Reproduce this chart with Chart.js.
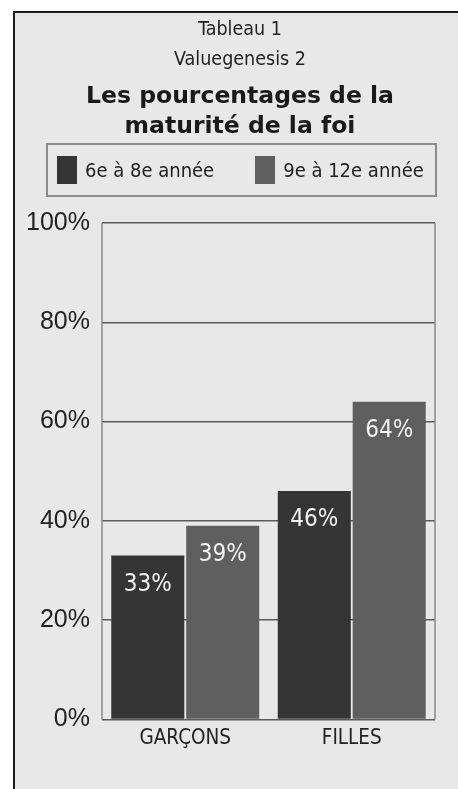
<!DOCTYPE html>
<html>
<head>
<meta charset="utf-8">
<script src="https://cdn.jsdelivr.net/npm/chart.js@4.4.1/dist/chart.umd.min.js"></script>
<style>
  body { margin: 0; background: #fff; }
  #wrap { position: relative; width: 458px; height: 789px; overflow: hidden; }
  #panel {
    position: absolute; left: 13px; top: 11px; width: 460px; height: 790px;
    background: #e8e8e8; border-left: 2px solid #1c1c1c; border-top: 2px solid #1c1c1c;
  }
  #chart { position: absolute; left: 0; top: 0; }
  #legend {
    position: absolute; left: 46px; top: 143px; width: 391px; height: 54px;
    box-sizing: border-box; border: 2px solid #8c8c8c;
    display: flex; align-items: center; padding-left: 9px; gap: 41px;
    font-family: 'DejaVu Sans Condensed', 'DejaVu Sans', sans-serif;
    font-size: 20px; color: #222; white-space: nowrap;
  }
  #legend .item { display: flex; align-items: center; }
  #legend .sw { width: 20px; height: 28px; margin-right: 8px; }
</style>
</head>
<body>
<div id="wrap">
  <div id="panel"></div>
  <canvas id="chart" width="480" height="789"></canvas>
  <div id="legend"></div>
</div>
<script>
var categories = ['GARÇONS', 'FILLES'];
var seriesNames = ['6e à 8e année', '9e à 12e année'];
var grade6to8 = [33, 46];
var grade9to12 = [39, 64];
var yTicks = [0, 20, 40, 60, 80, 100];

var narrow = "'DejaVu Sans Condensed', 'DejaVu Sans', sans-serif";
var colors = ['#353535', '#5f5f5f'];

// white percentage labels inside the top of each bar
var barLabels = {
  id: 'barLabels',
  afterDatasetsDraw: function (chart) {
    var ctx = chart.ctx;
    ctx.save();
    ctx.fillStyle = '#f2f2f2';
    ctx.font = '24px ' + narrow;
    ctx.textAlign = 'center';
    ctx.textBaseline = 'middle';
    chart.data.datasets.forEach(function (ds, i) {
      chart.getDatasetMeta(i).data.forEach(function (bar, j) {
        ctx.fillText(ds.data[j] + '%', bar.x, bar.y + 29);
      });
    });
    ctx.restore();
  }
};

// grey side lines of the plot frame
var frame = {
  id: 'frame',
  beforeDatasetsDraw: function (chart) {
    var a = chart.chartArea, ctx = chart.ctx;
    ctx.save();
    ctx.strokeStyle = '#8a8a8a';
    ctx.lineWidth = 1.5;
    ctx.beginPath();
    ctx.moveTo(a.left, a.top); ctx.lineTo(a.left, a.bottom);
    ctx.moveTo(a.right, a.top); ctx.lineTo(a.right, a.bottom);
    ctx.stroke();
    ctx.restore();
  }
};

var chart = new Chart(document.getElementById('chart'), {
  type: 'bar',
  data: {
    labels: categories,
    datasets: [
      { label: seriesNames[0], data: grade6to8, backgroundColor: colors[0], borderWidth: 0 },
      { label: seriesNames[1], data: grade9to12, backgroundColor: colors[1], borderWidth: 0 }
    ]
  },
  options: {
    responsive: false,
    animation: false,
    devicePixelRatio: 1,
    categoryPercentage: 0.9,
    barPercentage: 0.975,
    layout: { padding: { left: 0, right: 0, top: 0, bottom: 31 } },
    plugins: {
      legend: { display: false },
      tooltip: { enabled: false },
      title: {
        display: true,
        text: ['Tableau 1', 'Valuegenesis 2'],
        color: '#222',
        font: { family: narrow, size: 19.5, weight: 'normal', lineHeight: '30px' },
        padding: { top: 15, bottom: 0 }
      },
      subtitle: {
        display: true,
        text: ['Les pourcentages de la', 'maturité de la foi'],
        color: '#1a1a1a',
        font: { family: "'DejaVu Sans', sans-serif", size: 23.5, weight: 'bold', lineHeight: '30px' },
        padding: { top: 7, bottom: 81 }
      }
    },
    scales: {
      x: {
        grid: { display: false, drawTicks: false },
        border: { display: false },
        ticks: { color: '#222', padding: 7, font: { family: narrow, size: 20.5 } }
      },
      y: {
        min: 0,
        max: 100,
        afterFit: function (scale) { scale.width = 102; },
        afterBuildTicks: function (scale) {
          scale.ticks = yTicks.map(function (v) { return { value: v }; });
        },
        grid: { color: '#5a5a5a', lineWidth: 1.5, drawTicks: false },
        border: { display: false },
        ticks: {
          color: '#222',
          padding: 12,
          font: { family: "'Liberation Sans', Arial, sans-serif", size: 25 },
          callback: function (v) { return v + '%'; }
        }
      },
      // empty right axis keeps the plot edge at the frame
      yRight: {
        position: 'right',
        min: 0,
        max: 100,
        afterFit: function (scale) { scale.width = 45; },
        grid: { display: false, drawTicks: false },
        border: { display: false },
        ticks: { display: false }
      }
    }
  },
  plugins: [barLabels, frame]
});

// legend built from the datasets
var legendEl = document.getElementById('legend');
chart.data.datasets.forEach(function (ds) {
  var item = document.createElement('div');
  item.className = 'item';
  var sw = document.createElement('span');
  sw.className = 'sw';
  sw.style.background = ds.backgroundColor;
  var txt = document.createElement('span');
  txt.textContent = ds.label;
  item.appendChild(sw);
  item.appendChild(txt);
  legendEl.appendChild(item);
});
</script>
</body>
</html>
